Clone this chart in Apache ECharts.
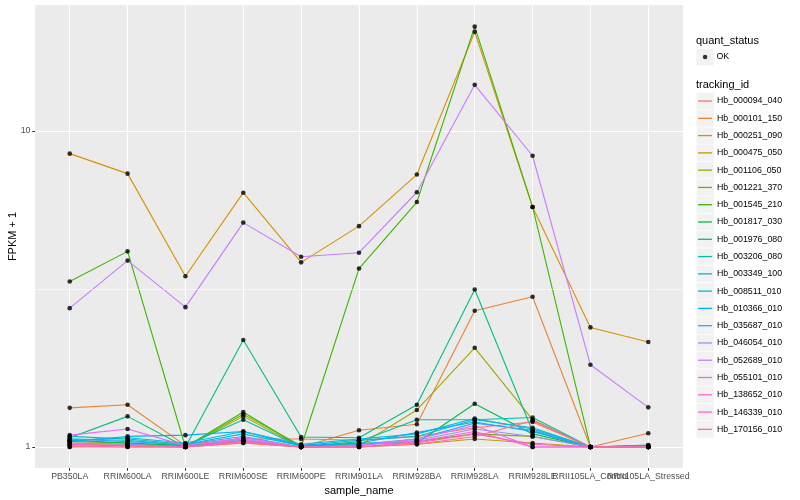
<!DOCTYPE html>
<html>
<head>
<meta charset="utf-8">
<script src="https://cdn.jsdelivr.net/npm/echarts@6/dist/echarts.min.js"></script>
<style>
html,body{margin:0;padding:0;background:#fff;}
#chart{width:800px;height:500px;}
</style>
</head>
<body>
<div id="chart"></div>
<script>
// ---- data ----
const categories = ['PB350LA','RRIM600LA','RRIM600LE','RRIM600SE','RRIM600PE','RRIM901LA','RRIM928BA','RRIM928LA','RRIM928LE','RRII105LA_Control','RRII105LA_Stressed'];
const yTickValues = [1, 10];
const yMinorValues = [3.1623];

const Hb_000094_040 = [1.03, 1.02, 1.02, 1.06, 1.06, 1.05, 1.08, 1.15, 1.20, 1.00, 1.00];
const Hb_000101_150 = [1.33, 1.36, 1.01, 1.04, 1.00, 1.13, 1.18, 2.70, 2.99, 1.00, 1.105];
const Hb_000251_090 = [8.48, 7.33, 3.47, 6.38, 3.84, 5.00, 7.28, 20.6, 5.75, 2.39, 2.15];
const Hb_000475_050 = [1.00, 1.02, 1.00, 1.03, 1.00, 1.00, 1.02, 1.06, 1.03, 1.00, 1.00];
const Hb_001106_050 = [1.02, 1.01, 1.00, 1.25, 1.00, 1.01, 1.31, 2.06, 1.22, 1.00, 1.00];
const Hb_001221_370 = [1.04, 1.03, 1.00, 1.27, 1.01, 1.02, 1.04, 1.10, 1.08, 1.00, 1.00];
const Hb_001545_210 = [3.34, 4.16, 1.00, 1.29, 1.00, 3.67, 5.96, 21.4, 5.75, 1.00, 1.00];
const Hb_001817_030 = [1.05, 1.03, 1.01, 1.05, 1.00, 1.03, 1.03, 1.37, 1.10, 1.00, 1.01];
const Hb_001976_080 = [1.07, 1.25, 1.00, 2.18, 1.075, 1.07, 1.36, 3.15, 1.12, 1.00, 1.015];
const Hb_003206_080 = [1.06, 1.05, 1.01, 1.22, 1.00, 1.04, 1.22, 1.22, 1.24, 1.00, 1.01];
const Hb_003349_100 = [1.08, 1.06, 1.02, 1.10, 1.01, 1.05, 1.08, 1.22, 1.15, 1.00, 1.00];
const Hb_008511_010 = [1.05, 1.07, 1.03, 1.12, 1.02, 1.06, 1.10, 1.23, 1.14, 1.00, 1.00];
const Hb_010366_010 = [1.04, 1.08, 1.09, 1.12, 1.01, 1.03, 1.11, 1.20, 1.12, 1.00, 1.00];
const Hb_035687_010 = [1.06, 1.04, 1.02, 1.08, 1.00, 1.02, 1.06, 1.19, 1.13, 1.00, 1.00];
const Hb_046054_010 = [1.03, 1.02, 1.00, 1.06, 1.00, 1.01, 1.05, 1.14, 1.08, 1.00, 1.00];
const Hb_052689_010 = [2.75, 3.89, 2.77, 5.13, 4.00, 4.12, 6.40, 14.0, 8.35, 1.82, 1.335];
const Hb_055101_010 = [1.09, 1.14, 1.01, 1.07, 1.00, 1.01, 1.06, 1.17, 1.00, 1.00, 1.00];
const Hb_138652_010 = [1.02, 1.01, 1.00, 1.05, 1.00, 1.00, 1.04, 1.12, 1.00, 1.00, 1.00];
const Hb_146339_010 = [1.01, 1.00, 1.00, 1.04, 1.00, 1.00, 1.03, 1.10, 1.02, 1.00, 1.00];
const Hb_170156_010 = [1.00, 1.00, 1.00, 1.03, 1.00, 1.00, 1.02, 1.08, 1.21, 1.00, 1.00];

const trackingIds = ['Hb_000094_040','Hb_000101_150','Hb_000251_090','Hb_000475_050','Hb_001106_050','Hb_001221_370','Hb_001545_210','Hb_001817_030','Hb_001976_080','Hb_003206_080','Hb_003349_100','Hb_008511_010','Hb_010366_010','Hb_035687_010','Hb_046054_010','Hb_052689_010','Hb_055101_010','Hb_138652_010','Hb_146339_010','Hb_170156_010'];
const seriesValues = [Hb_000094_040, Hb_000101_150, Hb_000251_090, Hb_000475_050, Hb_001106_050, Hb_001221_370, Hb_001545_210, Hb_001817_030, Hb_001976_080, Hb_003206_080, Hb_003349_100, Hb_008511_010, Hb_010366_010, Hb_035687_010, Hb_046054_010, Hb_052689_010, Hb_055101_010, Hb_138652_010, Hb_146339_010, Hb_170156_010];
const quantStatus = ['OK'];

// ---- styles ----
const palette = ['#F8766D','#EA8331','#D89000','#C09B00','#A3A500','#7CAE00','#39B600','#00BB4E','#00BF7D','#00C1A3','#00BFC4','#00BAE0','#00B0F6','#35A2FF','#9590FF','#C77CFF','#E76BF3','#FA62DB','#FF62BC','#FF6C91'];
const FONT = '"Liberation Sans", Arial, Helvetica, sans-serif';
const catIdx = categories.map((c, i) => i);
// labels split over two axes so that overlapping neighbours are both drawn
const labelIdxA = catIdx.filter(i => i % 2 === 0);
const labelIdxB = catIdx.filter(i => i % 2 === 1);

const lineSeries = trackingIds.map((id, k) => ({
  name: id,
  type: 'line',
  color: palette[k],
  data: seriesValues[k].map((v, i) => [i, v]),
  symbol: 'none',
  lineStyle: { width: 1.1, color: palette[k] },
  z: 3,
  silent: true,
  animation: false
}));

const pointData = [];
seriesValues.forEach(arr => arr.forEach((v, i) => pointData.push([i, v])));

const helper = {
  name: '__grid',
  type: 'line',
  data: [],
  z: 1,
  silent: true,
  animation: false,
  markLine: {
    silent: true,
    symbol: 'none',
    label: { show: false },
    animation: false,
    lineStyle: { color: '#ffffff', width: 0.55, type: 'solid' },
    data: yMinorValues.map(v => ({ yAxis: v }))
  }
};

const scatter = {
  name: quantStatus[0],
  type: 'scatter',
  data: pointData,
  symbol: 'circle',
  symbolSize: 4.6,
  itemStyle: { color: '#000000' },
  z: 5,
  silent: true,
  animation: false
};

const keyBoxes = [];
keyBoxes.push({ type: 'rect', shape: { x: 696.5, y: 48.8, width: 17.28, height: 16.5 }, style: { fill: '#F2F2F2' }, z: 0 });
trackingIds.forEach((id, k) => {
  keyBoxes.push({ type: 'rect', shape: { x: 696.5, y: 92.8 + k * 17.28, width: 17.28, height: 16.5 }, style: { fill: '#F2F2F2' }, z: 0 });
});
keyBoxes.push({ type: 'text', x: 696, y: 40.5, style: { text: 'quant_status', font: '11px ' + FONT, fill: '#000', textVerticalAlign: 'middle' }, z: 1 });
keyBoxes.push({ type: 'text', x: 696, y: 84.5, style: { text: 'tracking_id', font: '11px ' + FONT, fill: '#000', textVerticalAlign: 'middle' }, z: 1 });

const xLabelStyle = { formatter: v => categories[Math.round(v)], fontSize: 8.8, color: '#4D4D4D', margin: 4, fontFamily: FONT, hideOverlap: false, showMinLabel: true, showMaxLabel: true };

const chart = echarts.init(document.getElementById('chart'), null, { renderer: 'canvas' });
chart.setOption({
  animation: false,
  backgroundColor: '#ffffff',
  textStyle: { fontFamily: FONT },
  grid: { left: 35, right: 117, top: 5, bottom: 32, show: true, backgroundColor: '#EBEBEB', borderWidth: 0, containLabel: false, outerBoundsMode: 'none' },
  xAxis: [
    {
      type: 'value', min: -0.6, max: 10.6, position: 'bottom', offset: 0,
      name: 'sample_name', nameLocation: 'middle', nameGap: 17, nameMoveOverlap: false,
      nameTextStyle: { fontSize: 11, color: '#000', fontFamily: FONT },
      axisLine: { show: false, onZero: false },
      axisTick: { show: true, length: 2.75, lineStyle: { color: '#333333', width: 1 }, customValues: catIdx },
      axisLabel: Object.assign({ customValues: labelIdxA }, xLabelStyle),
      splitLine: { show: true, lineStyle: { color: '#ffffff', width: 1.1 } },
      minorSplitLine: { show: false }
    },
    {
      type: 'value', min: -0.6, max: 10.6, position: 'bottom', offset: 0,
      axisLine: { show: false, onZero: false },
      axisTick: { show: false, customValues: labelIdxB },
      axisLabel: Object.assign({ customValues: labelIdxB }, xLabelStyle),
      splitLine: { show: false }
    }
  ],
  yAxis: {
    type: 'log', logBase: 10, min: 0.858, max: 25.05,
    name: 'FPKM + 1', nameLocation: 'middle', nameGap: 17, nameMoveOverlap: false,
    nameTextStyle: { fontSize: 11, color: '#000', fontFamily: FONT },
    axisLine: { show: false, onZero: false },
    axisTick: { show: true, length: 2.75, lineStyle: { color: '#333333', width: 1 }, customValues: yTickValues },
    axisLabel: { customValues: yTickValues, fontSize: 8.8, color: '#4D4D4D', margin: 4.5, fontFamily: FONT, formatter: v => String(Math.round(v)) },
    splitLine: { show: true, lineStyle: { color: '#ffffff', width: 1.1 } }
  },
  legend: [
    {
      data: quantStatus.map(n => ({ name: n, icon: 'circle', itemStyle: { color: '#000' } })),
      orient: 'vertical', left: 702.8, top: 48.4, padding: 0,
      itemWidth: 4.6, itemHeight: 4.6, itemGap: 0, selectedMode: false,
      textStyle: { fontSize: 8.8, color: '#000', fontFamily: FONT, lineHeight: 17.28, padding: [0, 0, 0, 4] }
    },
    {
      data: trackingIds.map(n => ({ name: n, icon: 'rect' })),
      orient: 'vertical', left: 698, top: 92.4, padding: 0,
      itemWidth: 14, itemHeight: 1.3, itemGap: 0, selectedMode: false,
      textStyle: { fontSize: 8.8, color: '#000', fontFamily: FONT, lineHeight: 17.28 }
    }
  ],
  graphic: keyBoxes,
  series: [helper].concat(lineSeries).concat([scatter])
});
</script>
</body>
</html>
